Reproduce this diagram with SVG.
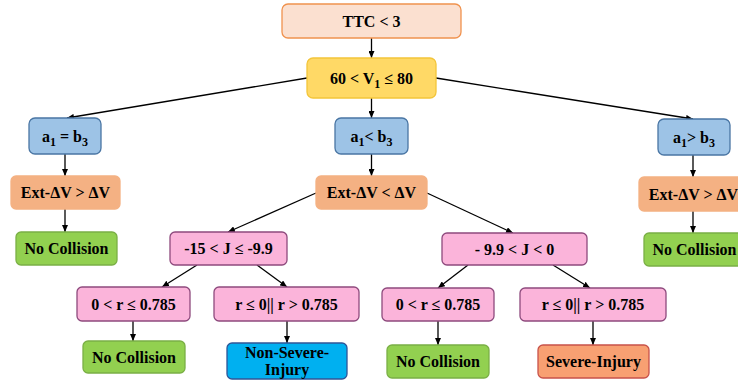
<svg xmlns="http://www.w3.org/2000/svg" width="738" height="381" viewBox="0 0 738 381">
<defs>
<marker id="arr" markerUnits="userSpaceOnUse" markerWidth="7" markerHeight="6" refX="7" refY="3" orient="auto">
<path d="M0,0 L7,3 L0,6 z" fill="#000"/>
</marker>
<style>
text{font-family:"Liberation Serif","Times New Roman",serif;font-weight:bold;font-size:16px;fill:#000;text-anchor:middle}
.sub{font-size:12px}
rect{stroke-width:1.3}
.ttc{fill:#FBE0D0;stroke:#F0924E}
.v{fill:#FFD966;stroke:#F3C53A}
.blue{fill:#9DC3E6;stroke:#4A76A4}
.ext{fill:#F4B183;stroke:#F4B183}
.green{fill:#92D050;stroke:#7AAF45}
.pink{fill:#FBB4DA;stroke:#8E4A7D}
.cyan{fill:#00B0F0;stroke:#2F5597}
.sev{fill:#F8A072;stroke:#C8524A}
#connectors line{stroke:#000;stroke-width:1.3;marker-end:url(#arr)}
</style>
</defs>
<rect width="738" height="381" fill="#fff"/>
<g id="connectors">
<line x1="371.5" y1="38" x2="371.5" y2="58"/>
<line x1="307" y1="78" x2="67" y2="118"/>
<line x1="371.5" y1="98" x2="371.5" y2="118"/>
<line x1="436" y1="78" x2="693" y2="119"/>
<line x1="65" y1="154" x2="65" y2="176"/>
<line x1="371.5" y1="154" x2="371.5" y2="176"/>
<line x1="693" y1="155" x2="693" y2="177"/>
<line x1="65" y1="209" x2="65" y2="232"/>
<line x1="316" y1="193" x2="228" y2="232"/>
<line x1="427" y1="193" x2="513" y2="233"/>
<line x1="693" y1="211" x2="693" y2="233"/>
<line x1="197" y1="265" x2="162" y2="287"/>
<line x1="257" y1="265" x2="287" y2="287"/>
<line x1="468" y1="265" x2="438" y2="288"/>
<line x1="553" y1="265" x2="590" y2="288"/>
<line x1="133" y1="321" x2="133" y2="341"/>
<line x1="287" y1="321" x2="287" y2="343"/>
<line x1="438" y1="321" x2="438" y2="345"/>
<line x1="593" y1="321" x2="593" y2="345"/>
</g>
<g id="ttc"><rect class="ttc" x="282" y="4" width="179" height="34" rx="6"/><text x="371.5" y="27">TTC &lt; 3</text></g>
<g id="v1"><rect class="v" x="307" y="58" width="129" height="40" rx="6"/><text x="371.5" y="84">60 &lt; V<tspan class="sub" dy="4">1</tspan><tspan dy="-4"> ≤ 80</tspan></text></g>
<g id="a1eq"><rect class="blue" x="29" y="118" width="72" height="36" rx="6"/><text x="65" y="142">a<tspan class="sub" dy="4">1</tspan><tspan dy="-4"> = b</tspan><tspan class="sub" dy="4">3</tspan></text></g>
<g id="a1lt"><rect class="blue" x="335" y="118" width="73" height="36" rx="6"/><text x="371.5" y="142">a<tspan class="sub" dy="4">1</tspan><tspan dy="-4">&lt; b</tspan><tspan class="sub" dy="4">3</tspan></text></g>
<g id="a1gt"><rect class="blue" x="658" y="119" width="72" height="36" rx="6"/><text x="694" y="143">a<tspan class="sub" dy="4">1</tspan><tspan dy="-4">&gt; b</tspan><tspan class="sub" dy="4">3</tspan></text></g>
<g id="extL"><rect class="ext" x="11" y="176" width="109" height="33" rx="5"/><text x="65.5" y="198">Ext-ΔV &gt; ΔV</text></g>
<g id="extC"><rect class="ext" x="316" y="176" width="111" height="33" rx="5"/><text x="371.5" y="198">Ext-ΔV &lt; ΔV</text></g>
<g id="extR"><rect class="ext" x="639" y="177" width="109" height="34" rx="5"/><text x="693.5" y="199.5">Ext-ΔV &gt; ΔV</text></g>
<g id="ncL"><rect class="green" x="16" y="232" width="101" height="33" rx="5"/><text x="66.5" y="254">No Collision</text></g>
<g id="jL"><rect class="pink" x="170" y="232" width="117" height="33" rx="5"/><text x="228.5" y="254">-15 &lt; J ≤ -9.9</text></g>
<g id="jR"><rect class="pink" x="442" y="233" width="145" height="32" rx="5"/><text x="514.5" y="254.5">- 9.9 &lt; J &lt; 0</text></g>
<g id="ncR"><rect class="green" x="644" y="233" width="101" height="33" rx="5"/><text x="694.5" y="255">No Collision</text></g>
<g id="r1"><rect class="pink" x="77" y="287" width="113" height="34" rx="5"/><text x="133.5" y="309.5">0 &lt; r ≤ 0.785</text></g>
<g id="r2"><rect class="pink" x="214" y="287" width="145" height="34" rx="5"/><text x="286.5" y="309.5">r ≤ 0|| r &gt; 0.785</text></g>
<g id="r3"><rect class="pink" x="382" y="288" width="112" height="33" rx="5"/><text x="438" y="310">0 &lt; r ≤ 0.785</text></g>
<g id="r4"><rect class="pink" x="520" y="288" width="146" height="33" rx="5"/><text x="593" y="310">r ≤ 0|| r &gt; 0.785</text></g>
<g id="nc1"><rect class="green" x="83" y="341" width="102" height="32" rx="5"/><text x="134" y="362.5">No Collision</text></g>
<g id="nsi"><rect class="cyan" x="227" y="343" width="120" height="36" rx="5"/><text x="287" y="358">Non-Severe-</text><text x="287" y="375">Injury</text></g>
<g id="nc2"><rect class="green" x="387" y="345" width="102" height="33" rx="5"/><text x="438" y="367">No Collision</text></g>
<g id="si"><rect class="sev" x="538" y="345" width="111" height="33" rx="5"/><text x="593.5" y="367">Severe-Injury</text></g>
</svg>
